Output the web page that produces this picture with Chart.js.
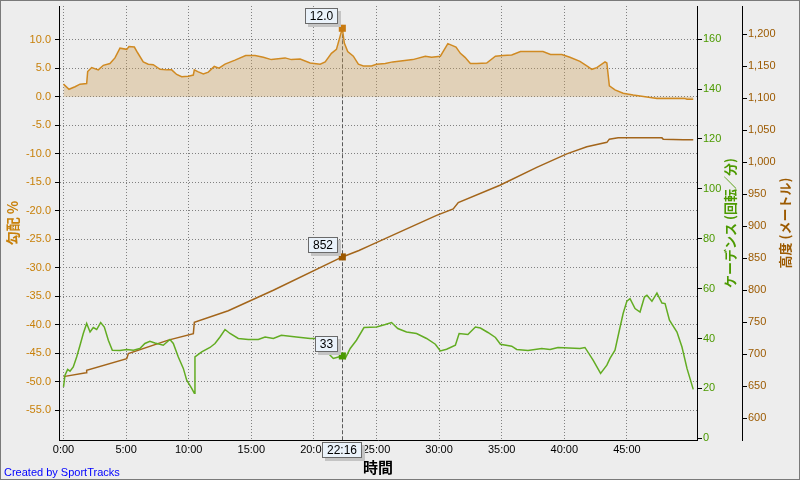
<!DOCTYPE html>
<html lang="ja">
<head>
<meta charset="UTF-8">
<title>勾配 / 高度 / ケーデンス</title>
<style>
  body { margin:0; padding:0; background:#ededed; }
  #wrap { position:relative; width:800px; height:480px; box-sizing:border-box; border:1px solid #7a7a7a; background:#ededed; }
  canvas { display:block; }
</style>
</head>
<body>
<div id="wrap"><canvas id="chart" width="798" height="478"></canvas></div>

<script src="https://cdn.jsdelivr.net/npm/chart.js"></script>
<script>
// 勾配 (%)
const gradeTime = [0,0.44,0.92,1.32,1.85,1.93,2.25,2.78,3.18,3.71,4.11,4.51,5.05,5.23,5.66,5.92,6.37,6.77,7.17,7.71,
  8.24,8.64,9.04,9.44,9.97,10.37,10.45,10.72,11.17,11.57,12.04,12.42,12.9,13.7,14.55,15.3,15.96,16.6,17.7,18.2,
  18.9,19.7,20.5,20.9,21.4,21.8,22.27,22.43,22.7,23.15,23.55,23.95,24.6,25.0,25.7,26.3,27.9,28.9,29.4,30.1,
  30.7,31.35,31.7,32.07,32.5,33.0,33.8,34.5,35.1,35.8,36.5,37.5,38.3,38.9,39.8,40.45,41.25,41.8,42.2,42.6,
  43.25,43.4,43.6,44.05,44.7,45.5,46.6,47.4,49.6,49.8,50.3];
const gradeValue = [2.2,1.3,1.75,2.2,2.3,4.4,5.1,4.7,5.5,5.8,6.8,8.5,8.3,8.8,8.7,7.7,6.1,5.7,5.6,4.8,
  4.7,4.7,3.9,3.5,3.6,3.8,4.7,4.4,4.0,4.3,5.3,5.0,5.7,6.4,7.2,7.2,6.9,6.5,6.8,6.5,
  6.6,5.9,5.7,6.1,7.6,8.3,12.0,9.4,7.9,7.1,5.7,5.4,5.4,5.7,5.8,6.1,6.5,7.1,6.9,7.1,
  9.3,8.7,7.6,6.9,5.8,5.8,5.9,7.1,7.2,7.3,7.9,7.9,7.9,7.4,7.4,6.9,6.2,5.4,4.8,5.1,
  6.1,5.9,1.9,1.2,0.6,0.3,-0.05,-0.3,-0.3,-0.45,-0.45];

// 高度 (m)
const altTime = [0,1.8,1.85,5.05,5.18,8.37,10.37,10.45,13.16,16.76,22.27,23.6,24.5,27.1,29.8,31.13,31.53,
  34.86,37.8,40.2,41.8,43.4,43.6,44.3,47.8,47.9,49.5,50.3];
const altValue = [665,671,675,693,701,722,732,750,768,800,852,862,870,893,917,927,937,
  964,992,1013,1024,1031,1036,1038,1038,1036,1035,1035];

// ケーデンス (rpm)
const cadTime = [0,0.12,0.33,0.52,0.78,1.05,1.32,1.58,1.85,2.12,2.38,2.65,2.97,3.26,3.58,3.9,4.51,5.05,5.58,6.1,
  6.5,6.9,7.3,7.97,8.5,8.77,9.17,9.57,9.84,10.24,10.45,10.5,11.04,11.7,12.1,12.5,12.9,13.3,13.96,14.76,
  15.56,16.1,16.76,17.4,18.6,19.7,20.1,21.3,21.55,22.27,22.5,22.9,23.4,24.0,25.0,25.7,26.2,26.7,27.4,28.2,
  29.0,29.7,30.1,30.6,31.3,31.6,32.3,32.9,33.3,33.9,34.5,34.9,35.8,36.2,37.1,38.2,38.86,39.5,41.25,41.65,
  42.3,42.9,43.4,43.65,44.05,44.4,44.7,45.0,45.25,45.65,46.05,46.4,46.6,47.0,47.4,47.8,48.05,48.4,49.0,49.4,
  49.8,50.3];
const cadValue = [20.6,25.3,27.6,26.9,28.6,32.6,37.3,42,46,42.6,44.4,43.6,46.4,44.6,39.3,35.3,35.2,35.6,35.3,36,
  38,38.9,38.2,37.3,39.6,38,32.6,28,23.3,20,18,32.6,34.6,36.4,38,40.6,43.6,42,40,39.6,
  39.6,40.6,40,41.3,40.6,40,40,33.3,32,33,32,36,39.3,44.4,44.6,45.6,46.4,44,42.6,42,
  40,37.7,35,35.7,37.3,42,41.6,44.6,44.2,42.4,40.4,37.7,36.9,35.6,35.2,36,35.6,36.4,36,36.4,
  31.3,26,29.3,32,35.3,43.3,50,55,56,52,50.6,56.6,57.3,54.9,58.2,54.2,54,47.3,42.6,36.6,
  28,19.6];

// カーソル位置 (22:16)
const cursorTime = 22.27;
const cursorLabel = '22:16';
const cursorGrade = 12.0;
const cursorAlt = 852;
const cursorCad = 33;

const pts = (xs, ys) => xs.map((x, i) => ({x: x, y: ys[i]}));

const GRADE = '#c8800a', ALT = '#9c5a00', CAD = '#4c9a00';
const tickFont = {family: 'Liberation Sans', size: 11};
const titleFont = {family: 'Noto Sans CJK JP', size: 14, weight: 'bold'};

// fixed axis sizes, no extra padding for end labels
const fixW = w => s => { s.width = w; s.paddingTop = 0; s.paddingBottom = 0; };
const fixH = h => s => { s.height = h; s.paddingLeft = 0; s.paddingRight = 0; };

function tag(ctx, text, x, y, mode) {
  ctx.font = '12px "Liberation Sans"';
  const w = Math.round(ctx.measureText(text).width) + 10, h = 16;
  let left, top;
  if (mode === 'center') { left = Math.round(x - w / 2); top = Math.round(y); }
  else { left = Math.round(x - 4 - w); top = Math.round(y - 4 - h); }
  ctx.fillStyle = '#c4c4c4';
  ctx.fillRect(left + 3, top + 3, w, h);
  ctx.fillStyle = '#eaf2fa';
  ctx.fillRect(left, top, w, h);
  ctx.strokeStyle = '#6a6a6a';
  ctx.lineWidth = 1;
  ctx.strokeRect(left + 0.5, top + 0.5, w - 1, h - 1);
  ctx.fillStyle = '#000';
  ctx.textAlign = 'center';
  ctx.textBaseline = 'middle';
  ctx.fillText(text, left + w / 2, top + h / 2 + 1);
}

const cursorPlugin = {
  id: 'cursor',
  beforeDatasetsDraw(chart) {
    const {ctx, chartArea, scales} = chart;
    const x = Math.round(scales.x.getPixelForValue(cursorTime)) + 0.5;
    const top = scales.yGrade.getPixelForValue(cursorGrade);
    ctx.save();
    ctx.strokeStyle = '#5a5a5a';
    ctx.lineWidth = 1;
    ctx.setLineDash([4, 2]);
    ctx.beginPath();
    ctx.moveTo(x, top);
    ctx.lineTo(x, chartArea.bottom);
    ctx.stroke();
    ctx.restore();
  },
  afterDraw(chart) {
    const {ctx, chartArea, scales} = chart;
    const x = scales.x.getPixelForValue(cursorTime);
    ctx.save();
    tag(ctx, cursorGrade.toFixed(1), x, scales.yGrade.getPixelForValue(cursorGrade));
    tag(ctx, String(cursorAlt), x, scales.yAlt.getPixelForValue(cursorAlt));
    tag(ctx, String(cursorCad), x, scales.yCad.getPixelForValue(cursorCad));
    tag(ctx, cursorLabel, x, chartArea.bottom + 2, 'center');

    // right axis titles, read bottom-to-top
    const midY = (chartArea.top + chartArea.bottom) / 2;
    ctx.font = 'bold 13px "Noto Sans CJK JP"';
    ctx.textAlign = 'center';
    ctx.textBaseline = 'middle';
    [[scales.yCad, 'ケーデンス (回転／分)', CAD, 12], [scales.yAlt, '高度 (メートル)', ALT, 14]].forEach(([s, t, c, off]) => {
      ctx.save();
      ctx.translate(s.right - off, midY);
      ctx.rotate(-Math.PI / 2);
      ctx.fillStyle = c;
      ctx.fillText(t, 0, 0);
      ctx.restore();
    });

    ctx.font = '11px "Liberation Sans"';
    ctx.fillStyle = '#0000ff';
    ctx.textAlign = 'left';
    ctx.textBaseline = 'alphabetic';
    ctx.fillText('Created by SportTracks', 3, 475);
    ctx.restore();
  }
};

const marker = (x, y, axis, color) => ({
  data: [{x: x, y: y}], yAxisID: axis, showLine: false, order: 0,
  pointStyle: 'rect', pointRadius: 5, backgroundColor: color, borderColor: color, borderWidth: 0
});

new Chart(document.getElementById('chart'), {
  type: 'line',
  data: {
    datasets: [
      { data: pts(gradeTime, gradeValue), yAxisID: 'yGrade', order: 3, fill: 'origin',
        borderColor: '#d08a22', backgroundColor: 'rgba(204,158,87,0.35)', borderWidth: 1.5, pointRadius: 0 },
      { data: pts(altTime, altValue), yAxisID: 'yAlt', order: 2,
        borderColor: '#a3651a', borderWidth: 1.5, pointRadius: 0 },
      { data: pts(cadTime, cadValue), yAxisID: 'yCad', order: 1,
        borderColor: '#62ac22', borderWidth: 1.5, pointRadius: 0 },
      marker(cursorTime, cursorGrade, 'yGrade', '#c87a10'),
      marker(cursorTime, cursorAlt, 'yAlt', '#9c5800'),
      marker(cursorTime, cursorCad, 'yCad', '#4a9a00')
    ]
  },
  options: {
    responsive: false,
    animation: false,
    devicePixelRatio: 1,
    layout: { padding: { top: 4, left: 0, right: 0, bottom: 0 } },
    plugins: { legend: { display: false }, tooltip: { enabled: false } },
    elements: { line: { tension: 0 } },
    scales: {
      x: {
        type: 'linear', position: 'bottom', min: -0.36, max: 50.6,
        afterFit: fixH(39),
        afterBuildTicks: s => { s.ticks = s.ticks.filter(t => t.value >= 0 && t.value <= 45); },
        ticks: { stepSize: 5, maxTicksLimit: 100, includeBounds: false, maxRotation: 0, padding: 3,
          color: '#000', font: tickFont, callback: v => v + ':00' },
        grid: { color: '#808080', drawTicks: false },
        border: { color: '#000', dash: [1, 2] },
        title: { display: true, text: '時間', color: '#000', padding: { top: 0, bottom: 3 },
          font: {family: 'Noto Sans CJK JP', size: 15, weight: 'bold'} }
      },
      yGrade: {
        type: 'linear', position: 'left', min: -60.2, max: 15.9,
        afterFit: fixW(58),
        afterBuildTicks: s => { s.ticks = s.ticks.filter(t => t.value >= -55 && t.value <= 10); },
        ticks: { stepSize: 5, maxTicksLimit: 100, includeBounds: false, padding: 4, color: GRADE, font: tickFont,
          callback: v => v.toFixed(1) },
        grid: { color: '#808080', tickLength: 4, tickColor: '#000', tickBorderDash: [] },
        border: { color: '#000', dash: [1, 2] },
        title: { display: true, text: '勾配 %', color: GRADE, padding: { top: 3, bottom: 0 }, font: titleFont }
      },
      yCad: {
        type: 'linear', position: 'right', weight: 0, min: -0.7, max: 173.3,
        afterFit: fixW(45),
        ticks: { stepSize: 20, maxTicksLimit: 100, includeBounds: false, padding: 1, color: CAD, font: tickFont },
        grid: { drawOnChartArea: false, tickLength: 5, tickColor: '#000' },
        border: { color: '#000' }
      },
      yAlt: {
        type: 'linear', position: 'right', weight: 1, min: 566, max: 1244,
        afterFit: fixW(57),
        ticks: { stepSize: 50, maxTicksLimit: 100, includeBounds: false, padding: 1, color: ALT, font: tickFont,
          callback: v => v.toLocaleString('en-US') },
        grid: { drawOnChartArea: false, tickLength: 5, tickColor: '#000' },
        border: { color: '#000' }
      }
    }
  },
  plugins: [cursorPlugin]
});
</script>
</body>
</html>
